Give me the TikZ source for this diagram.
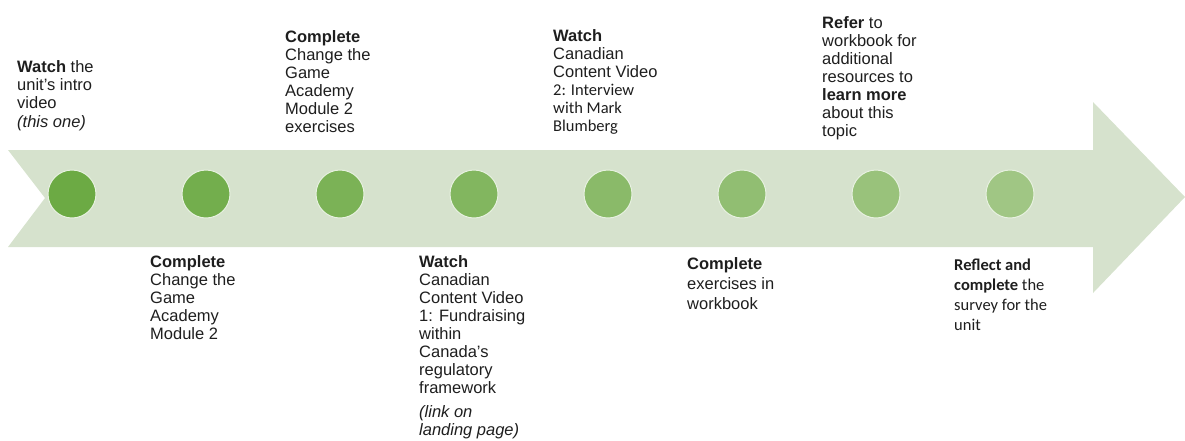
\documentclass[tikz,border=0pt]{standalone}
\usepackage{fontspec}
\setmainfont{Liberation Sans}
\newfontfamily\calibri{Carlito}
\usepackage{tikz}

\definecolor{band}{RGB}{214,226,205}
\definecolor{dotdark}{RGB}{108,170,68}
\definecolor{dotlight}{RGB}{160,198,132}
\definecolor{ink}{RGB}{30,30,30}

\tikzset{
  stepdot/.style={circle,minimum size=48pt,inner sep=0pt,draw=white!75!dotlight,line width=1pt},
  steptext/.style={anchor=base west,align=left,inner sep=0pt,text=ink,font=\fontsize{16.5}{18}\selectfont},
  widetext/.style={steptext,font=\fontsize{16.5}{20}\selectfont},
}

\begin{document}
\begin{tikzpicture}[x=1pt,y=-1pt]
\useasboundingbox (0,0) rectangle (1185,440);

\fill[band] (8,150) -- (1093,150) -- (1093,102) -- (1185,197) -- (1093,293)
  -- (1093,247) -- (8,247) -- (45,198) -- cycle;

\foreach \i in {1,...,8}{
  \pgfmathsetmacro\mix{100-(\i-1)*100/7}
  \node[stepdot,fill=dotdark!\mix!dotlight] (dot\i) at ({72+134*(\i-1)},194) {};
}

% base anchor sits on the last line
\node[steptext] (top1) at (17,127) {\textbf{Watch} the\\unit’s intro\\video\\[1pt]\textit{(this one)}};
\node[steptext] (top2) at (285,132) {\textbf{Complete}\\Change the\\Game\\Academy\\Module 2\\exercises};
\node[steptext] (top3) at (553,131) {\textbf{Watch}\\Canadian\\Content Video\\{\calibri 2: Interview}\\{\calibri with Mark}\\{\calibri Blumberg}};
\node[steptext] (top4) at (822,136) {\textbf{Refer} to\\workbook for\\additional\\resources to\\\textbf{learn more}\\about this\\topic};

\node[steptext] (bot1) at (150,339) {\textbf{Complete}\\Change the\\Game\\Academy\\Module 2};
\node[steptext] (bot2) at (419,435) {\textbf{Watch}\\Canadian\\Content Video\\1: Fundraising\\within\\Canada’s\\regulatory\\framework\\[6pt]\textit{(link on}\\\textit{landing page)}};
\node[widetext] (bot3) at (687,309) {\textbf{Complete}\\exercises in\\workbook};
\node[widetext,font=\calibri\fontsize{16.5}{20}\selectfont] (bot4) at (954,330) {\textbf{Reflect and}\\\textbf{complete} the\\survey for the\\unit};
\end{tikzpicture}
\end{document}
